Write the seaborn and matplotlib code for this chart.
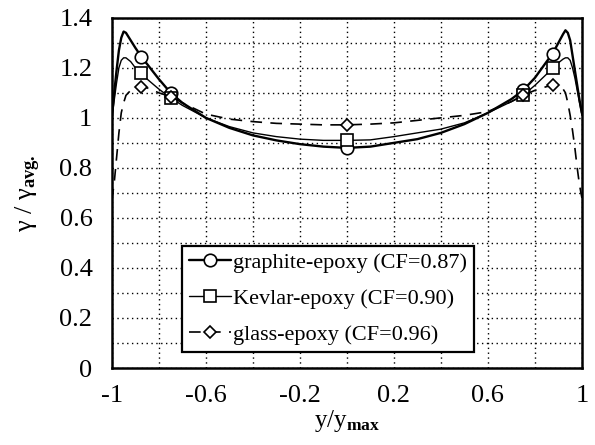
import numpy as np
import pandas as pd
import matplotlib
matplotlib.use("Agg")
import matplotlib.pyplot as plt
import seaborn as sns

# Normalised position across the section
y_pos = [-1.0, -0.99, -0.98, -0.97, -0.96, -0.95, -0.94, -0.92, -0.9, -0.875,
         -0.85, -0.8, -0.75, -0.7, -0.6, -0.5, -0.4, -0.3, -0.2, -0.1, 0.0,
         0.1, 0.2, 0.3, 0.4, 0.5, 0.6, 0.7, 0.75, 0.8, 0.85, 0.875, 0.9,
         0.92, 0.93, 0.94, 0.95, 0.96, 0.97, 0.98, 0.99, 1.0]

# Shear strain ratio gamma / gamma_avg for each laminate
graphite = [1.00, 1.10, 1.19, 1.27, 1.32, 1.345, 1.34, 1.31, 1.28, 1.245,
            1.215, 1.155, 1.10, 1.06, 1.00, 0.96, 0.93, 0.91, 0.895, 0.885, 0.88,
            0.885, 0.90, 0.915, 0.94, 0.975, 1.02, 1.075, 1.11, 1.16, 1.225, 1.256, 1.30,
            1.335, 1.35, 1.34, 1.31, 1.25, 1.19, 1.13, 1.07, 1.02]
kevlar = [1.00, 1.07, 1.14, 1.20, 1.23, 1.24, 1.24, 1.225, 1.20, 1.18,
          1.155, 1.115, 1.08, 1.05, 1.00, 0.965, 0.94, 0.925, 0.915, 0.91, 0.91,
          0.912, 0.925, 0.94, 0.955, 0.98, 1.02, 1.065, 1.09, 1.13, 1.175, 1.20, 1.22,
          1.235, 1.24, 1.24, 1.23, 1.20, 1.16, 1.11, 1.06, 1.01]
glass = [0.67, 0.74, 0.84, 0.94, 1.02, 1.06, 1.09, 1.11, 1.12, 1.124,
         1.12, 1.10, 1.085, 1.06, 1.015, 0.995, 0.985, 0.978, 0.975, 0.972, 0.972,
         0.975, 0.98, 0.99, 1.00, 1.01, 1.025, 1.065, 1.09, 1.11, 1.125, 1.13, 1.125,
         1.115, 1.10, 1.06, 1.01, 0.95, 0.88, 0.80, 0.73, 0.68]

marker_pos = [-0.875, -0.75, 0.0, 0.75, 0.875]

series_labels = ["graphite-epoxy (CF=0.87)",
                 "Kevlar-epoxy (CF=0.90)",
                 "glass-epoxy (CF=0.96)"]

x_major = [-1, -0.6, -0.2, 0.2, 0.6, 1]
x_major_labels = ["-1", "-0.6", "-0.2", "0.2", "0.6", "1"]
x_minor = [-0.8, -0.4, 0.0, 0.4, 0.8]
y_major = [0, 0.2, 0.4, 0.6, 0.8, 1.0, 1.2, 1.4]
y_major_labels = ["0", "0.2", "0.4", "0.6", "0.8", "1", "1.2", "1.4"]
y_minor = [0.1, 0.3, 0.5, 0.7, 0.9, 1.1, 1.3]

sns.set_theme(style="white")
plt.rcParams["font.family"] = ["Liberation Serif", "DejaVu Serif"]
plt.rcParams["mathtext.fontset"] = "custom"
plt.rcParams["mathtext.rm"] = "Liberation Serif"
plt.rcParams["mathtext.it"] = "Liberation Serif:italic"
plt.rcParams["mathtext.bf"] = "Liberation Serif:bold"

fig, ax = plt.subplots(figsize=(5.95, 4.45), dpi=100)
fig.subplots_adjust(left=0.188, right=0.978, top=0.96, bottom=0.173)

df = pd.DataFrame({"pos": y_pos, "graphite": graphite, "kevlar": kevlar, "glass": glass})
mark_idx = [y_pos.index(p) for p in marker_pos]

sns.lineplot(data=df, x="pos", y="graphite", ax=ax, color="black", lw=1.7,
             marker="o", markevery=mark_idx, markersize=9, markerfacecolor="white",
             markeredgecolor="black", markeredgewidth=1.2, errorbar=None,
             label=series_labels[0])
sns.lineplot(data=df, x="pos", y="kevlar", ax=ax, color="black", lw=1.0,
             marker="s", markevery=mark_idx, markersize=8, markerfacecolor="white",
             markeredgecolor="black", markeredgewidth=1.2, errorbar=None,
             label=series_labels[1])
sns.lineplot(data=df, x="pos", y="glass", ax=ax, color="black", lw=1.2,
             marker="D", markevery=mark_idx, markersize=6,
             markerfacecolor="white", markeredgecolor="black", markeredgewidth=1.2,
             errorbar=None, label=series_labels[2])
ax.lines[-1].set_dashes((7, 5))

ax.set_xlim(-1, 1)
ax.set_ylim(0, 1.4)
ax.set_xticks(x_major)
ax.set_xticklabels(x_major_labels)
ax.set_xticks(x_minor, minor=True)
ax.set_yticks(y_major)
ax.set_yticklabels(y_major_labels)
ax.set_yticks(y_minor, minor=True)

ax.grid(True, which="both", color="black", linestyle=(0, (1, 2.5)), linewidth=1.0)
ax.set_axisbelow(True)
ax.tick_params(axis="x", which="both", length=0, labelsize=19, pad=12, colors="black")
ax.tick_params(axis="y", which="both", length=0, labelsize=19, pad=14, colors="black")

for sp in ax.spines.values():
    sp.set_visible(True)
    sp.set_color("black")
    sp.set_linewidth(1.8)

ax.set_xlabel(r"y/y$_{\mathbf{max}}$", fontsize=18, labelpad=1, color="black")
ax.set_ylabel(r"γ / γ$_{\mathbf{avg.}}$", fontsize=19, labelpad=12, color="black")

leg = ax.legend(loc="lower left", bbox_to_anchor=(0.149, 0.046), fontsize=16,
                frameon=True, fancybox=False, edgecolor="black", framealpha=1,
                handlelength=1.9, handletextpad=0.1, borderpad=0.3,
                labelspacing=0.7, borderaxespad=0)
leg.get_frame().set_linewidth(1.6)
for t in leg.get_texts():
    t.set_color("black")

fig.savefig("out.png", dpi=100)
